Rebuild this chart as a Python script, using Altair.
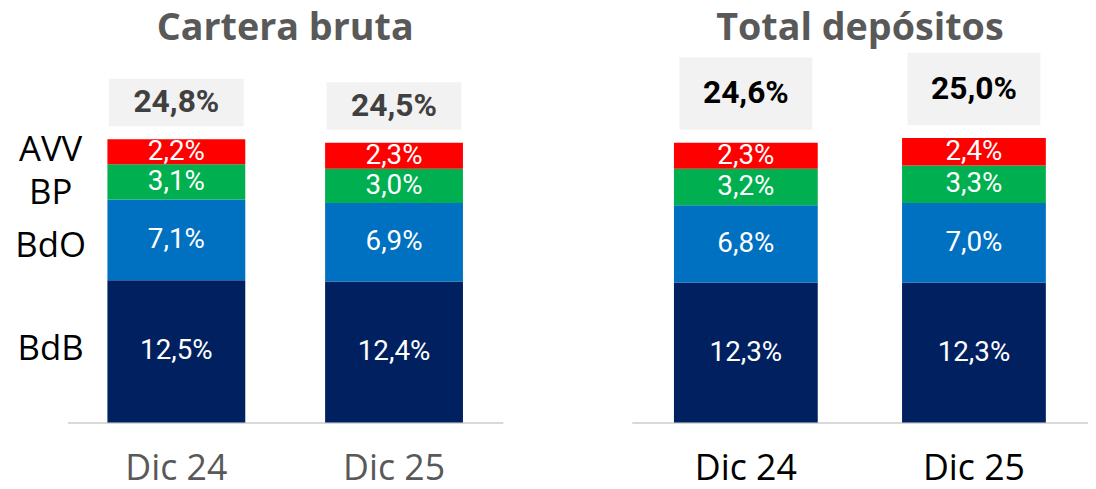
import altair as alt
import pandas as pd

# ---- data ----
periods = ["Dic 24", "Dic 25"]
segments = ["BdB", "BdO", "BP", "AVV"]
seg_colors = ["#002060", "#0070C0", "#00B050", "#FF0000"]

cartera_bdb = [12.5, 12.4]
cartera_bdo = [7.1, 6.9]
cartera_bp = [3.1, 3.0]
cartera_avv = [2.2, 2.3]
cartera_total = [24.8, 24.5]

depositos_bdb = [12.3, 12.3]
depositos_bdo = [6.8, 7.0]
depositos_bp = [3.2, 3.3]
depositos_avv = [2.3, 2.4]
depositos_total = [24.6, 25.0]

# ---- style ----
FONT = "Roboto"
FONT_WIDE = "Open Sans"
H = 413
YMAX = 36
PPU = H / YMAX  # pixels per unit
CAT_DY = {"AVV": -2, "BP": 11, "BdO": 6, "BdB": -2}


def fmt(v):
    return f"{v:.1f}".replace(".", ",") + "%"


def panel(series, totals, title, W, bar_w, box_w, box_h, axis_color, total_color, show_cats):
    rows = []
    tops = []
    for i, p in enumerate(periods):
        cum = 0.0
        for k, s in enumerate(segments):
            v = series[s][i]
            rows.append(dict(period=p, seg=s, y0=cum, y1=cum + v, mid=cum + v / 2,
                             label=fmt(v), order=k))
            cum += v
        gap = 13 / PPU
        hh = box_h / PPU
        tops.append(dict(period=p, b0=cum + gap, b1=cum + gap + hh,
                         tm=cum + gap + hh / 2, label=fmt(totals[i])))
    df = pd.DataFrame(rows)
    dt = pd.DataFrame(tops)

    xenc = alt.X("period:N", sort=periods,
                 scale=alt.Scale(domain=periods, paddingInner=0, paddingOuter=0),
                 axis=alt.Axis(title=None, labelAngle=0, ticks=False, labelFont=FONT_WIDE,
                               labelFontSize=36, labelColor=axis_color, labelPadding=29,
                               domainColor="#D9D9D9", domainWidth=2, grid=False))
    yscale = alt.Scale(domain=[0, YMAX], nice=False, zero=True)

    bars = alt.Chart(df).mark_bar(width=bar_w).encode(
        x=xenc,
        y=alt.Y("y0:Q", scale=yscale, axis=None),
        y2="y1:Q",
        color=alt.Color("seg:N", scale=alt.Scale(domain=segments, range=seg_colors), legend=None),
    )
    seg_text = alt.Chart(df).mark_text(font=FONT, fontSize=28, color="white",
                                       baseline="middle", align="center").encode(
        x=xenc, y=alt.Y("mid:Q", scale=yscale, axis=None), text="label:N")

    boxes = alt.Chart(dt).mark_bar(width=box_w, color="#F2F2F2").encode(
        x=xenc, y=alt.Y("b0:Q", scale=yscale, axis=None), y2="b1:Q")
    box_text = alt.Chart(dt).mark_text(font=FONT, fontSize=32, fontWeight="bold",
                                       color=total_color, baseline="middle").encode(
        x=xenc, y=alt.Y("tm:Q", scale=yscale, axis=None), text="label:N")

    ttl = alt.Chart(pd.DataFrame({"t": [title]})).mark_text(
        font=FONT_WIDE, fontSize=38, fontWeight="bold", color="#595959",
        baseline="alphabetic", align="center").encode(
        x=alt.value(W / 2), y=alt.value(27), text="t:N")

    layers = [boxes, bars, seg_text, box_text, ttl]
    if show_cats:
        cats = df[df["period"] == periods[0]]
        for s in segments:
            c = alt.Chart(cats[cats["seg"] == s]).mark_text(
                font=FONT_WIDE, fontSize=35, color="black",
                baseline="middle", align="center", dy=CAT_DY[s]).encode(
                x=alt.value(-17), y=alt.Y("mid:Q", scale=yscale, axis=None), text="seg:N")
            layers.append(c)
    return alt.layer(*layers).properties(width=W, height=H)


left = panel({"BdB": cartera_bdb, "BdO": cartera_bdo, "BP": cartera_bp, "AVV": cartera_avv},
             cartera_total, "Cartera bruta", 439, 139, 136, 48, "#595959", "#404040", True)
right = panel({"BdB": depositos_bdb, "BdO": depositos_bdo, "BP": depositos_bp, "AVV": depositos_avv},
              depositos_total, "Total depósitos", 460, 145, 134, 73, "#000000", "#000000", False)

chart = alt.hconcat(left, right, spacing=130, bounds="flush").properties(
    padding={"left": 7, "top": 0, "right": 0, "bottom": 2}
).configure_view(stroke=None)

chart.save("out.html", embed_options={"renderer": "svg", "actions": False})
